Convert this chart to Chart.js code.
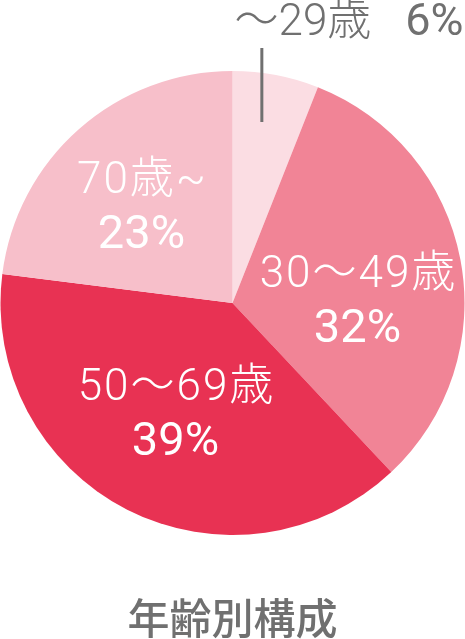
<!DOCTYPE html>
<html>
<head>
<meta charset="utf-8">
<script src="https://cdn.jsdelivr.net/npm/chart.js@4"></script>
<style>
  html, body { margin: 0; padding: 0; background: #fff; }
  canvas { display: block; }
</style>
</head>
<body>
<canvas id="chart" width="465" height="639"></canvas>
<script>
// age groups, shares in %
const categories = ['～29歳', '30～49歳', '50～69歳', '70歳~'];
const shares = [6, 32, 39, 23];
const sliceColors = ['#fbdde3', '#f18496', '#e83253', '#f7bfca'];

const FONT = 'Roboto, "Noto Sans CJK JP", sans-serif';
const CJK = '"Noto Sans CJK JP", sans-serif';

// label offsets from the pie centre (px), one per slice; null = outside label
const labelPos = [null, { dx: 125, dy: -16 }, { dx: -57, dy: 97 }, { dx: -91, dy: -110 }];

const labelPlugin = {
  id: 'sliceLabels',
  afterDatasetsDraw(chart) {
    const ctx = chart.ctx;
    const meta = chart.getDatasetMeta(0);
    ctx.save();
    meta.data.forEach((arc, i) => {
      const cx = arc.x, cy = arc.y, R = arc.outerRadius;
      const pct = shares[i] + '%';
      if (labelPos[i] === null) {
        // outside label with leader line
        const mid = (arc.startAngle + arc.endAngle) / 2;
        const lx = cx + Math.cos(mid) * R * 0.79 - 5;
        ctx.strokeStyle = '#707070';
        ctx.lineWidth = 3;
        ctx.beginPath();
        ctx.moveTo(lx, cy - R - 23);
        ctx.lineTo(lx, cy - R + 51);
        ctx.stroke();
        ctx.fillStyle = '#707070';
        ctx.textBaseline = 'alphabetic';
        ctx.textAlign = 'left';
        ctx.font = '300 44px ' + FONT;
        const x0 = cx + 2;
        ctx.fillText(categories[i], x0, cy - R - 36);
        const w = ctx.measureText(categories[i]).width;
        ctx.font = '400 45px ' + FONT;
        ctx.fillText(pct, x0 + w + 34, cy - R - 36);
        return;
      }
      const p = labelPos[i];
      ctx.fillStyle = '#ffffff';
      ctx.textAlign = 'center';
      ctx.textBaseline = 'alphabetic';
      ctx.font = '300 44px ' + FONT;
      ctx.letterSpacing = '2px';
      ctx.fillText(categories[i], cx + p.dx + 1, cy + p.dy);
      ctx.letterSpacing = '0px';
      ctx.font = '400 47px ' + FONT;
      ctx.fillText(pct, cx + p.dx, cy + p.dy + 55);
    });
    ctx.restore();
  }
};

new Chart(document.getElementById('chart'), {
  type: 'pie',
  data: {
    labels: categories,
    datasets: [{
      data: shares,
      backgroundColor: sliceColors,
      borderWidth: 0
    }]
  },
  options: {
    responsive: false,
    animation: false,
    layout: { padding: { top: 71, left: 0.5, right: 0.5, bottom: 0 } },
    plugins: {
      legend: { display: false },
      tooltip: { enabled: false },
      title: {
        display: true,
        position: 'bottom',
        text: '年齢別構成',
        color: '#707070',
        font: { family: CJK, size: 42, weight: '500', lineHeight: 1 },
        padding: { top: 62, bottom: 0 }
      }
    }
  },
  plugins: [labelPlugin]
});
</script>
</body>
</html>
